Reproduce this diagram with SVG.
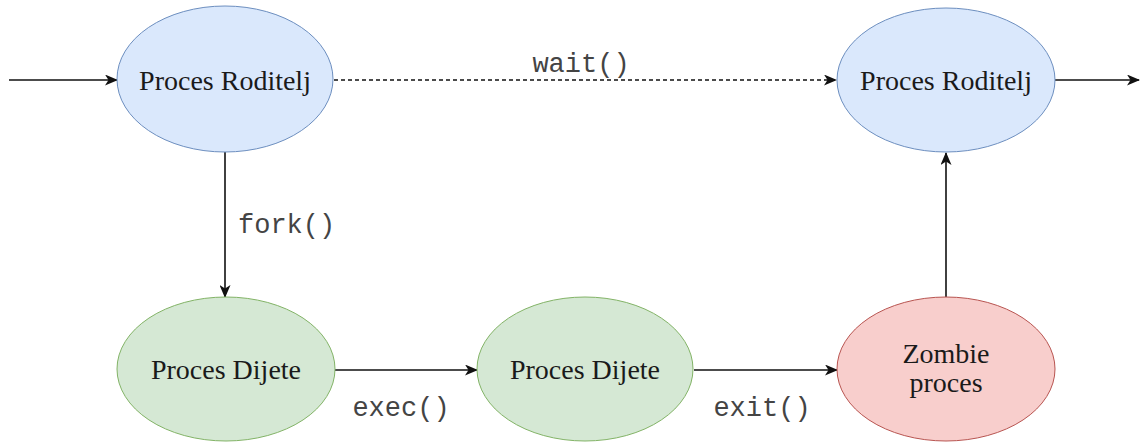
<svg xmlns="http://www.w3.org/2000/svg" width="1140" height="444" viewBox="0 0 1140 444">
<style>
.blue{fill:#dae8fc;stroke:#6c8ebf;stroke-width:1}
.green{fill:#d5e8d4;stroke:#82b366;stroke-width:1}
.red{fill:#f8cecc;stroke:#b85450;stroke-width:1}
.lbl{font-family:"Liberation Serif","Times New Roman",serif;font-size:28px;fill:#1a1a1a;text-anchor:middle}
.code{font-family:"Liberation Mono","Courier New",monospace;font-size:27px;fill:#444}
.edge{stroke:#111;stroke-width:1.6;fill:none;marker-end:url(#arr)}
</style>
<defs>
<marker id="arr" viewBox="0 0 13 11" refX="12" refY="5.5" markerWidth="13" markerHeight="11" markerUnits="userSpaceOnUse" orient="auto">
<path d="M0,0 L13,5.5 L0,11 L3.5,5.5 Z" fill="#111"/>
</marker>
</defs>
<rect width="1140" height="444" fill="#fff"/>
<g id="connectors">
<line class="edge" x1="9" y1="80" x2="117" y2="80"/>
<line class="edge" x1="334" y1="80" x2="836" y2="80" stroke-dasharray="4 3"/>
<line class="edge" x1="1055" y1="80" x2="1139" y2="80"/>
<line class="edge" x1="225" y1="152" x2="225" y2="297"/>
<line class="edge" x1="335" y1="370" x2="477" y2="370"/>
<line class="edge" x1="694" y1="370" x2="837" y2="370"/>
<line class="edge" x1="946" y1="297" x2="946" y2="153"/>
<text class="code" x="581" y="72" text-anchor="middle">wait()</text>
<text class="code" x="238" y="233">fork()</text>
<text class="code" x="401" y="416" text-anchor="middle">exec()</text>
<text class="code" x="762" y="416" text-anchor="middle">exit()</text>
</g>
<g id="parent1">
<ellipse class="blue" cx="225" cy="79" rx="108" ry="73"/>
<text class="lbl" x="225" y="90">Proces Roditelj</text>
</g>
<g id="parent2">
<ellipse class="blue" cx="946" cy="80" rx="109" ry="72"/>
<text class="lbl" x="946" y="90">Proces Roditelj</text>
</g>
<g id="child1">
<ellipse class="green" cx="226" cy="369" rx="109" ry="72"/>
<text class="lbl" x="226" y="379">Proces Dijete</text>
</g>
<g id="child2">
<ellipse class="green" cx="585" cy="369" rx="108" ry="72"/>
<text class="lbl" x="585" y="379">Proces Dijete</text>
</g>
<g id="zombie">
<ellipse class="red" cx="946" cy="369" rx="109" ry="72"/>
<text class="lbl" x="946" y="363">Zombie</text>
<text class="lbl" x="946" y="392">proces</text>
</g>
</svg>
